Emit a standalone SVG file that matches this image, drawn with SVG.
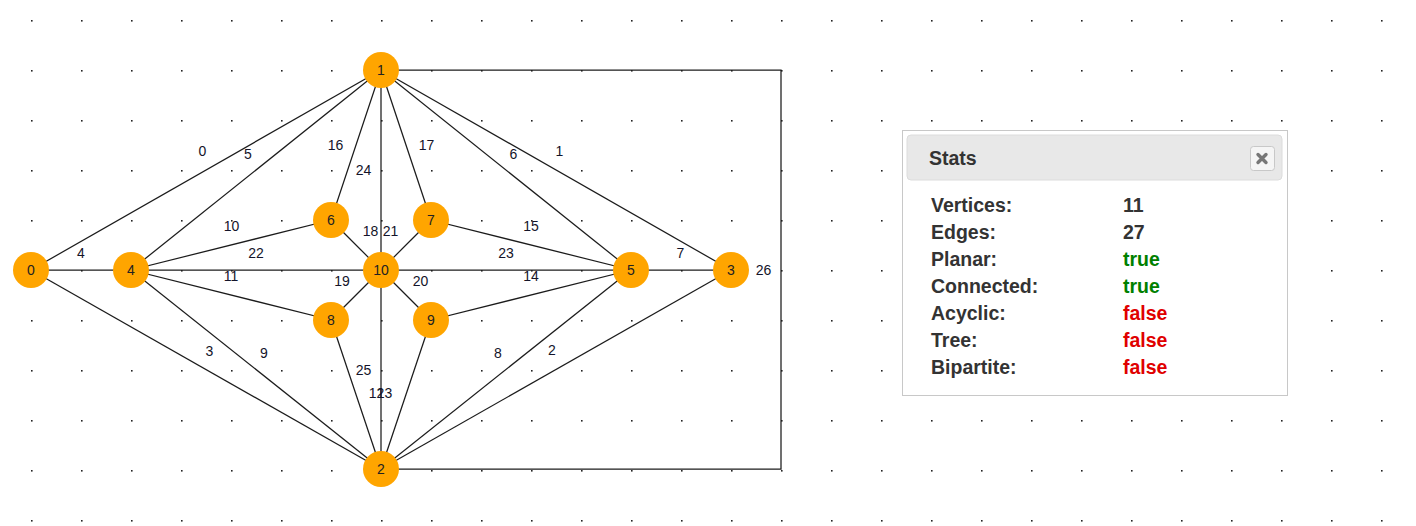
<svg xmlns="http://www.w3.org/2000/svg" width="1416" height="526" viewBox="0 0 1416 526">
<style>
.edge{stroke:#1c1c1c;stroke-width:1.25;fill:none}
.el{font-family:"Liberation Sans",Arial,sans-serif;font-size:14px;fill:#14142a;text-anchor:middle}
.node circle{fill:#ffa500}
.node text{font-family:"Liberation Sans",Arial,sans-serif;font-size:14px;fill:#222;text-anchor:middle}
.st{font-family:"Liberation Sans",Arial,sans-serif;font-weight:bold;font-size:19.5px;fill:#333}
.t{fill:#008000}
.f{fill:#e00000}
</style>
<defs>
<pattern id="dots" width="50" height="50" patternUnits="userSpaceOnUse">
<rect x="31" y="20" width="1.6" height="1.6" fill="#222"/>
</pattern>
</defs>
<rect width="1416" height="526" fill="#fff"/>
<rect width="1416" height="526" fill="url(#dots)"/>
<g id="connectors">
<line class="edge" x1="31" y1="270" x2="381" y2="70"/>
<line class="edge" x1="381" y1="70" x2="731" y2="270"/>
<line class="edge" x1="381" y1="469" x2="731" y2="270"/>
<line class="edge" x1="31" y1="270" x2="381" y2="469"/>
<line class="edge" x1="31" y1="270" x2="131" y2="270"/>
<line class="edge" x1="381" y1="70" x2="131" y2="270"/>
<line class="edge" x1="381" y1="70" x2="631" y2="270"/>
<line class="edge" x1="631" y1="270" x2="731" y2="270"/>
<line class="edge" x1="381" y1="469" x2="631" y2="270"/>
<line class="edge" x1="381" y1="469" x2="131" y2="270"/>
<line class="edge" x1="131" y1="270" x2="331" y2="220"/>
<line class="edge" x1="131" y1="270" x2="331" y2="320"/>
<line class="edge" x1="331" y1="320" x2="381" y2="469"/>
<line class="edge" x1="431" y1="320" x2="381" y2="469"/>
<line class="edge" x1="431" y1="320" x2="631" y2="270"/>
<line class="edge" x1="431" y1="220" x2="631" y2="270"/>
<line class="edge" x1="381" y1="70" x2="331" y2="220"/>
<line class="edge" x1="381" y1="70" x2="431" y2="220"/>
<line class="edge" x1="331" y1="220" x2="381" y2="270"/>
<line class="edge" x1="331" y1="320" x2="381" y2="270"/>
<line class="edge" x1="431" y1="320" x2="381" y2="270"/>
<line class="edge" x1="431" y1="220" x2="381" y2="270"/>
<line class="edge" x1="131" y1="270" x2="381" y2="270"/>
<line class="edge" x1="381" y1="270" x2="631" y2="270"/>
<line class="edge" x1="381" y1="70" x2="381" y2="270"/>
<line class="edge" x1="381" y1="270" x2="381" y2="469"/>
<polyline class="edge" points="381,70 781,70 781,469 381,469"/>
<text class="el" x="202.5" y="156">0</text>
<text class="el" x="559.5" y="156">1</text>
<text class="el" x="552" y="355">2</text>
<text class="el" x="209.5" y="356">3</text>
<text class="el" x="81" y="258">4</text>
<text class="el" x="248" y="159">5</text>
<text class="el" x="513.5" y="159">6</text>
<text class="el" x="680.5" y="258">7</text>
<text class="el" x="498" y="358">8</text>
<text class="el" x="264" y="358">9</text>
<text class="el" x="231.5" y="231">10</text>
<text class="el" x="231" y="281">11</text>
<text class="el" x="376.5" y="398">12</text>
<text class="el" x="384.5" y="398">13</text>
<text class="el" x="531" y="281">14</text>
<text class="el" x="531" y="231">15</text>
<text class="el" x="335.5" y="150">16</text>
<text class="el" x="426.5" y="150">17</text>
<text class="el" x="370.5" y="236">18</text>
<text class="el" x="342" y="286">19</text>
<text class="el" x="420.5" y="286">20</text>
<text class="el" x="390.5" y="236">21</text>
<text class="el" x="256" y="258">22</text>
<text class="el" x="506" y="258">23</text>
<text class="el" x="363.5" y="175">24</text>
<text class="el" x="363.5" y="375">25</text>
<text class="el" x="763.5" y="275">26</text>
</g>
<g id="node0" class="node"><circle cx="31" cy="270" r="18"/><text x="31" y="275">0</text></g>
<g id="node1" class="node"><circle cx="381" cy="70" r="18"/><text x="381" y="75">1</text></g>
<g id="node2" class="node"><circle cx="381" cy="469" r="18"/><text x="381" y="474">2</text></g>
<g id="node3" class="node"><circle cx="731" cy="270" r="18"/><text x="731" y="275">3</text></g>
<g id="node4" class="node"><circle cx="131" cy="270" r="18"/><text x="131" y="275">4</text></g>
<g id="node5" class="node"><circle cx="631" cy="270" r="18"/><text x="631" y="275">5</text></g>
<g id="node6" class="node"><circle cx="331" cy="220" r="18"/><text x="331" y="225">6</text></g>
<g id="node7" class="node"><circle cx="431" cy="220" r="18"/><text x="431" y="225">7</text></g>
<g id="node8" class="node"><circle cx="331" cy="320" r="18"/><text x="331" y="325">8</text></g>
<g id="node9" class="node"><circle cx="431" cy="320" r="18"/><text x="431" y="325">9</text></g>
<g id="node10" class="node"><circle cx="381" cy="270" r="18"/><text x="381" y="275">10</text></g>
<g id="stats">
<rect x="902.5" y="130.5" width="385" height="265" fill="#fff" stroke="#c8c8c8"/>
<rect x="907" y="135" width="375" height="45" rx="4" fill="#e8e8e8" stroke="#dcdcdc"/>
<text class="st" x="929" y="165" font-size="19">Stats</text>
<rect x="1250.5" y="146.5" width="24" height="24" rx="3" fill="#f5f5f5" stroke="#c8c8c8"/>
<path d="M1258 154.5 L1266 162.5 M1266 154.5 L1258 162.5" stroke="#777" stroke-width="3.4" stroke-linecap="round"/>
<text class="st" x="931" y="212">Vertices:</text><text class="st" x="1123" y="212">11</text>
<text class="st" x="931" y="239">Edges:</text><text class="st" x="1123" y="239">27</text>
<text class="st" x="931" y="266">Planar:</text><text class="st t" x="1123" y="266">true</text>
<text class="st" x="931" y="293">Connected:</text><text class="st t" x="1123" y="293">true</text>
<text class="st" x="931" y="320">Acyclic:</text><text class="st f" x="1123" y="320">false</text>
<text class="st" x="931" y="347">Tree:</text><text class="st f" x="1123" y="347">false</text>
<text class="st" x="931" y="374">Bipartite:</text><text class="st f" x="1123" y="374">false</text>
</g>
</svg>
